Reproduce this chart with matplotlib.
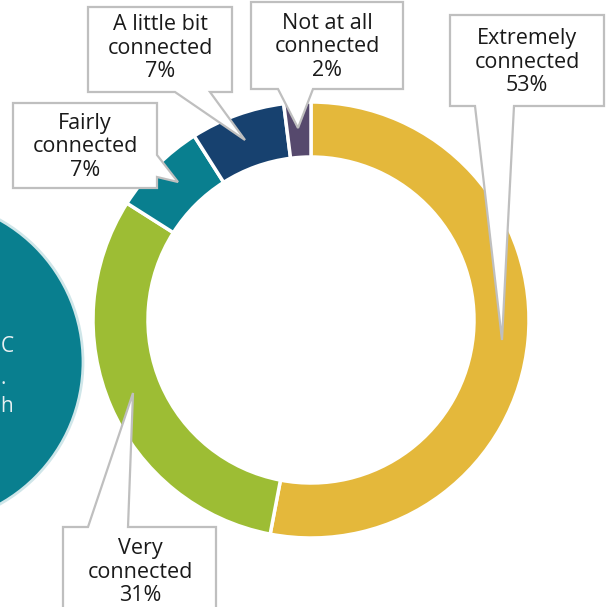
import matplotlib
matplotlib.use("Agg")
import matplotlib.pyplot as plt
from matplotlib.patches import Polygon, Circle

# data
labels = ["Extremely\nconnected", "Very\nconnected", "Fairly\nconnected",
          "A little bit\nconnected", "Not at all\nconnected"]
values = [53, 31, 7, 7, 2]
colors = ["#E4B83B", "#9DBD34", "#097F8F", "#17416F", "#56496D"]

W, H = 611, 607


def py(y):
    # pixel row (from top) -> data y
    return H - y


def callout(ax, box, tail, tip, side):
    l, t, r, b = box
    a1, a2 = tail
    if side == "bottom":
        pts = [(l, t), (r, t), (r, b), (a2, b), tip, (a1, b), (l, b)]
    elif side == "top":
        pts = [(l, t), (a1, t), tip, (a2, t), (r, t), (r, b), (l, b)]
    else:  # right
        pts = [(l, t), (r, t), (r, a1), tip, (r, a2), (r, b), (l, b)]
    pts = [(x, py(y)) for x, y in pts]
    ax.add_patch(Polygon(pts, closed=True, facecolor="white",
                         edgecolor="#BFBFBF", linewidth=1.6, zorder=5))


fig = plt.figure(figsize=(W / 100, H / 100), dpi=100)
ax = fig.add_axes([0, 0, 1, 1])

ax.pie(values, colors=colors, center=(311, py(320)), radius=218,
       startangle=90, counterclock=False,
       wedgeprops=dict(width=55, edgecolor="white", linewidth=2.5))

# side circle cut at the left edge
ax.add_patch(Circle((-80, py(362)), 163, facecolor="#097F8F",
                    edgecolor="#CFE6E9", linewidth=2, zorder=2))
for ch, yy in [("C", 346), (".", 378), ("h", 406)]:
    ax.text(0.5, py(yy), ch, ha="left", va="center", color="#E8F0F2",
            fontsize=15, family="Open Sans", zorder=3)

boxes = [
    ((450, 15, 604, 106), (475, 514), (502, 340), "bottom", (527, 62)),
    ((63, 527, 216, 640), (88, 128), (133, 393), "top", (140, 572)),
    ((13, 103, 157, 188), (155, 177), (178, 182), "right", (85, 147)),
    ((88, 7, 232, 92), (175, 210), (245, 140), "bottom", (160, 48)),
    ((251, 2, 403, 89), (278, 313), (298, 128), "bottom", (327, 47)),
]
for (box, tail, tip, side, pos), lab, v in zip(boxes, labels, values):
    callout(ax, box, tail, tip, side)
    ax.text(pos[0], py(pos[1]), f"{lab}\n{v}%", ha="center", va="center",
            fontsize=15.5, family="Open Sans", color="#1A1A1A",
            linespacing=1.18, zorder=6)

ax.set_xlim(0, W)
ax.set_ylim(0, H)
ax.set_aspect("auto")
ax.axis("off")

fig.savefig("out.png", dpi=100)
